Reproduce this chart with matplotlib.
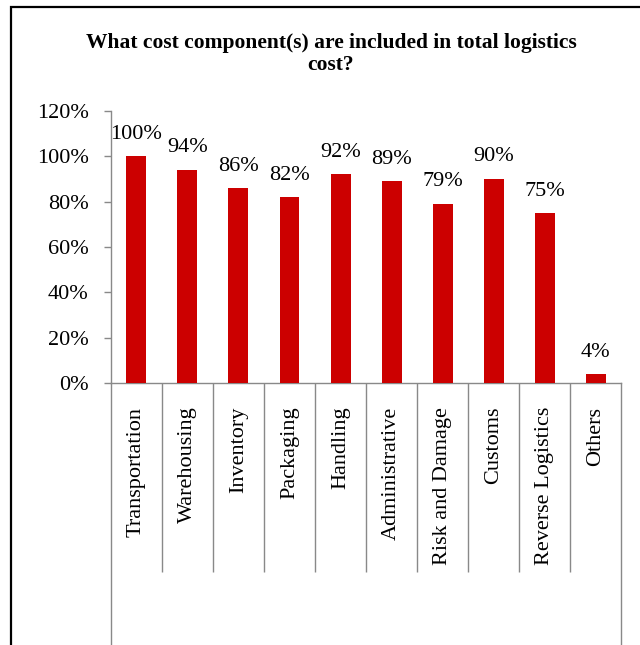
import matplotlib.pyplot as plt
import numpy as np
from matplotlib.patches import Rectangle
from matplotlib.ticker import PercentFormatter

# data
categories = ['Transportation', 'Warehousing', 'Inventory', 'Packaging', 'Handling',
              'Administrative', 'Risk and Damage', 'Customs', 'Reverse Logistics', 'Others']
shares = [100, 94, 86, 82, 92, 89, 79, 90, 75, 4]
yticks = [0, 20, 40, 60, 80, 100, 120]

plt.rcParams['font.family'] = ['Liberation Serif', 'DejaVu Serif']
grey = '#898989'
fs = 16

fig = plt.figure(figsize=(6.4, 6.45), dpi=100)
ax = fig.add_axes([0.173, 0.406, 0.798, 0.422])

x = np.arange(len(categories))
bars = ax.bar(x, shares, width=0.39, color='#CC0000', zorder=3)

ax.set_xlim(-0.5, len(categories) - 0.5)
ax.set_ylim(0, 120)
ax.set_yticks(yticks)
ax.yaxis.set_major_formatter(PercentFormatter(decimals=0))
ax.tick_params(axis='y', labelsize=fs, length=5, width=1, color=grey, pad=11)

# category labels rotated, separators between categories
ax.set_xticks(x)
ax.set_xticklabels(categories, rotation=90, va='top', ha='center')
ax.tick_params(axis='x', which='major', length=0, labelsize=fs, pad=17)
ax.set_xticks(np.arange(len(categories) - 1) + 0.5, minor=True)
ax.tick_params(axis='x', which='minor', length=136, width=1, color=grey)

for side in ['top', 'right']:
    ax.spines[side].set_visible(False)
for side in ['left', 'bottom']:
    ax.spines[side].set_color(grey)
    ax.spines[side].set_linewidth(1)

# outer lines of the category axis reach further down
for edge in [-0.5, len(categories) - 0.5]:
    ax.plot([edge, edge], [0, -1.12], color=grey, lw=1, clip_on=False,
            transform=ax.get_xaxis_transform())

for b, v in zip(bars, shares):
    ax.annotate(f'{v}%', (b.get_x() + b.get_width() / 2, v), xytext=(0, 9),
                textcoords='offset points', ha='center', va='bottom', fontsize=fs)

fig.text(0.517, 0.916, 'What cost component(s) are included in total logistics\ncost?',
         ha='center', va='center', fontsize=15.5, fontweight='bold', linespacing=1.15)

# chart frame
fig.add_artist(Rectangle((11 / 640, -0.1), 1.2, 1.1 - 7 / 645, transform=fig.transFigure,
                         fill=False, edgecolor='black', lw=1.6))

fig.savefig('out.png', dpi=100)
